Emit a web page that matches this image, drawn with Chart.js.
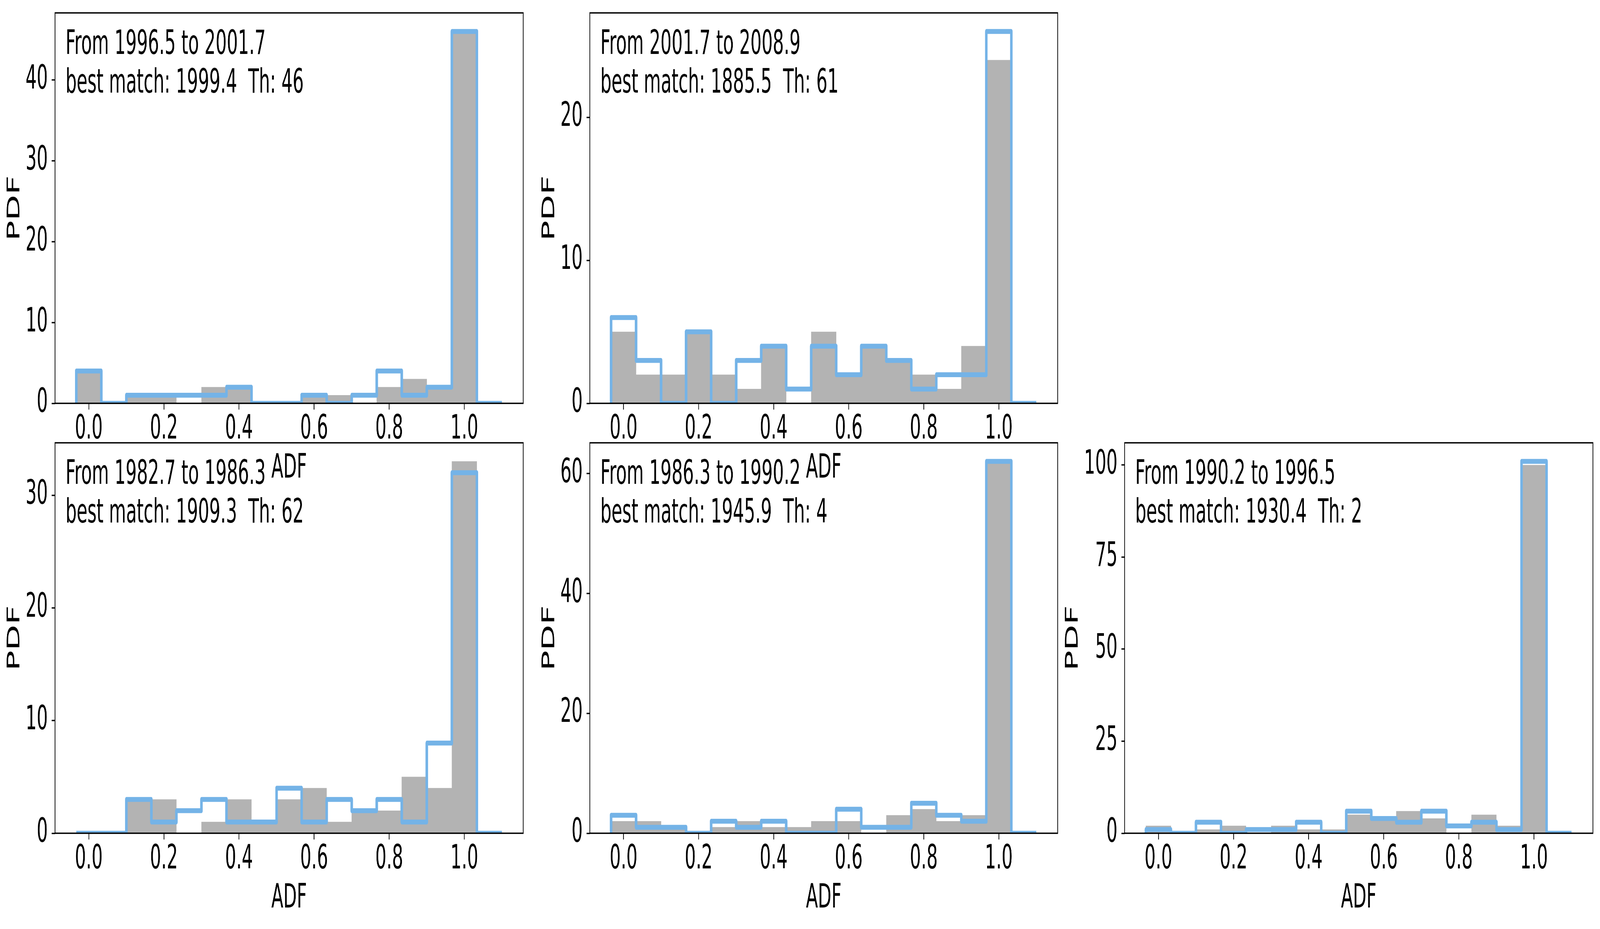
<!DOCTYPE html>
<html>
<head>
<meta charset="utf-8">
<script src="https://cdn.jsdelivr.net/npm/chart.js@4.4.1/dist/chart.umd.min.js"></script>
<style>
html, body { margin: 0; padding: 0; background: #ffffff; overflow: hidden; }
#wrap { position: absolute; left: 0; top: 0; width: 7859px; height: 2377px; transform-origin: 0 0; background: #ffffff; }
canvas { position: absolute; }
</style>
</head>
<body>
<div id="wrap">
<canvas id="c0"></canvas>
<canvas id="c1"></canvas>
<canvas id="c2"></canvas>
<canvas id="c3"></canvas>
<canvas id="c4"></canvas>
</div>
<script>
// ---------------- DATA ----------------
// histogram bin edges (ADF), 17 bins
const binEdges = [-0.033333, 0.033333, 0.1, 0.166667, 0.233333, 0.3, 0.366667, 0.433333,
                  0.5, 0.566667, 0.633333, 0.7, 0.766667, 0.833333, 0.9, 0.966667, 1.033333, 1.1];

const rangeLabels = ["From 1996.5 to 2001.7", "From 2001.7 to 2008.9", "From 1982.7 to 1986.3",
                     "From 1986.3 to 1990.2", "From 1990.2 to 1996.5"];
const matchLabels = ["best match: 1999.4  Th: 46", "best match: 1885.5  Th: 61", "best match: 1909.3  Th: 62",
                     "best match: 1945.9  Th: 4", "best match: 1930.4  Th: 2"];

// gray filled histogram (PDF) and blue step histogram (PDF) per panel
const grayA = [4, 0, 1, 1, 0, 2, 2, 0, 0, 1, 1, 0, 2, 3, 2, 46, 0];
const blueA = [4, 0, 1, 1, 1, 1, 2, 0, 0, 1, 0, 1, 4, 1, 2, 46, 0];

const grayB = [5, 2, 2, 5, 2, 1, 4, 0, 5, 2, 4, 3, 2, 1, 4, 24, 0];
const blueB = [6, 3, 0, 5, 0, 3, 4, 1, 4, 2, 4, 3, 1, 2, 2, 26, 0];

const grayC = [0, 0, 3, 3, 0, 1, 3, 1, 3, 4, 1, 2, 2, 5, 4, 33, 0];
const blueC = [0, 0, 3, 1, 2, 3, 1, 1, 4, 1, 3, 2, 3, 1, 8, 32, 0];

const grayD = [2, 2, 1, 0, 1, 2, 1, 1, 2, 2, 0, 3, 4, 2, 3, 62, 0];
const blueD = [3, 1, 1, 0, 2, 1, 2, 0, 0, 4, 1, 1, 5, 3, 2, 62, 0];

const grayE = [2, 0, 1, 2, 0, 2, 1, 1, 5, 4, 6, 4, 0, 5, 2, 100, 0];
const blueE = [1, 0, 3, 0, 1, 1, 3, 0, 6, 4, 3, 6, 2, 3, 1, 101, 0];

const yTickSteps = [10, 10, 10, 20, 25];
const xTickStep = 0.2;
const xLimits = [-0.09, 1.1567];
const xTitle = "ADF";
const yTitle = "PDF";

// ---------------- STYLE / LAYOUT ----------------
const DESIGN_W = 7859, DESIGN_H = 2377;
const FONT_FAMILY = '"DejaVu Sans", sans-serif';
const FONT_SIZE = 86;
const GRAY = 'rgb(179,179,179)';
const BLUE = 'rgb(116,179,231)';
const TICK_LEN = 16;
const LINE_W = 3.5;

// fit the 7859x2377 figure into the actual window
(function fitPage() {
  const sx = (window.innerWidth || DESIGN_W) / DESIGN_W;
  const sy = (window.innerHeight || DESIGN_H) / DESIGN_H;
  document.getElementById('wrap').style.transform = 'scale(' + sx + ',' + sy + ')';
})();

// chart area rectangles [left, top, width, height] and axis-box sizes
const layouts = [
  {area: [270, 33, 2300, 999],  L: 260, T: 33, R: 30, B: 219, yTitlePad: 11},
  {area: [2897, 33, 2298, 999], L: 260, T: 33, R: 30, B: 219, yTitlePad: 11},
  {area: [270, 1133, 2300, 999],  L: 260, T: 60, R: 30, B: 219, yTitlePad: 11},
  {area: [2897, 1133, 2298, 999], L: 260, T: 60, R: 30, B: 219, yTitlePad: 11},
  {area: [5524, 1133, 2300, 999], L: 320, T: 60, R: 30, B: 219, yTitlePad: 15}
];

const panels = [
  {gray: grayA, blue: blueA},
  {gray: grayB, blue: blueB},
  {gray: grayC, blue: blueC},
  {gray: grayD, blue: blueD},
  {gray: grayE, blue: blueE}
];

function decorPlugin(lines) {
  return {
    id: 'panelDecor',
    afterDatasetsDraw(chart) {
      const {ctx, chartArea: a} = chart;
      ctx.save();
      ctx.strokeStyle = '#000';
      ctx.lineWidth = LINE_W;
      ctx.strokeRect(a.left, a.top, a.right - a.left, a.bottom - a.top);
      ctx.fillStyle = '#000';
      ctx.font = FONT_SIZE + 'px ' + FONT_FAMILY;
      ctx.textAlign = 'left';
      ctx.textBaseline = 'alphabetic';
      lines.forEach((t, i) => ctx.fillText(t, a.left + 52, a.top + 105 + i * 99));
      ctx.restore();
    }
  };
}

function makeChart(idx) {
  const p = panels[idx];
  const lay = layouts[idx];
  const [ax, ay, aw, ah] = lay.area;
  const cw = lay.L + aw + lay.R;
  const chh = lay.T + ah + lay.B;
  const canvas = document.getElementById('c' + idx);
  canvas.width = cw; canvas.height = chh;
  canvas.style.left = (ax - lay.L) + 'px';
  canvas.style.top = (ay - lay.T) + 'px';
  canvas.style.width = cw + 'px';
  canvas.style.height = chh + 'px';

  const centers = binEdges.slice(0, -1).map((e, i) => (e + binEdges[i + 1]) / 2);
  const barData = centers.map((c, i) => ({x: c, y: p.gray[i]}));
  const stepData = [{x: binEdges[0], y: 0}]
    .concat(binEdges.slice(0, -1).map((e, i) => ({x: e, y: p.blue[i]})))
    .concat([{x: binEdges[binEdges.length - 1], y: 0}]);
  const yMax = Math.max(...p.gray, ...p.blue) * 1.05;

  const font = {family: FONT_FAMILY, size: FONT_SIZE};
  const gridOpts = {display: true, drawOnChartArea: false, drawTicks: true, tickLength: TICK_LEN,
                    tickWidth: LINE_W, tickColor: '#000', offset: false, color: '#000'};

  new Chart(canvas, {
    type: 'bar',
    data: {
      datasets: [
        {type: 'line', data: stepData, stepped: 'before', borderColor: BLUE, borderWidth: 12.5,
         pointRadius: 0, pointHoverRadius: 0, fill: false, tension: 0, clip: 0,
         borderJoinStyle: 'round', borderCapStyle: 'butt', order: 0},
        {type: 'bar', data: barData, backgroundColor: GRAY, borderWidth: 0,
         barPercentage: 1, categoryPercentage: 1, order: 1}
      ]
    },
    options: {
      responsive: false,
      maintainAspectRatio: false,
      devicePixelRatio: 1,
      animation: false,
      events: [],
      layout: {padding: {top: lay.T, right: lay.R, left: 0, bottom: 0}, autoPadding: false},
      plugins: {legend: {display: false}, tooltip: {enabled: false}, title: {display: false}},
      scales: {
        x: {
          type: 'linear', min: xLimits[0], max: xLimits[1], offset: false,
          grid: gridOpts, border: {display: false},
          ticks: {stepSize: xTickStep, includeBounds: false, padding: 0, color: '#000', font: font,
                  maxRotation: 0, minRotation: 0, autoSkip: false,
                  callback: v => Number(v).toFixed(1)},
          title: {display: true, text: xTitle, color: '#000', font: font, padding: {top: 0, bottom: 0}},
          afterFit: s => { s.height = lay.B; s.paddingLeft = 0; s.paddingRight = 0; }
        },
        y: {
          type: 'linear', min: 0, max: yMax,
          grid: gridOpts, border: {display: false},
          ticks: {stepSize: yTickSteps[idx], includeBounds: false, padding: 19, color: '#000', font: font,
                  callback: v => String(Math.round(v))},
          title: {display: true, text: yTitle, color: '#000', font: font, padding: {top: lay.yTitlePad, bottom: 0}},
          afterFit: s => { s.width = lay.L; s.paddingTop = 0; s.paddingBottom = 0; }
        }
      }
    },
    plugins: [decorPlugin([rangeLabels[idx], matchLabels[idx]])]
  });
}

for (let i = 0; i < panels.length; i++) makeChart(i);
</script>
</body>
</html>
